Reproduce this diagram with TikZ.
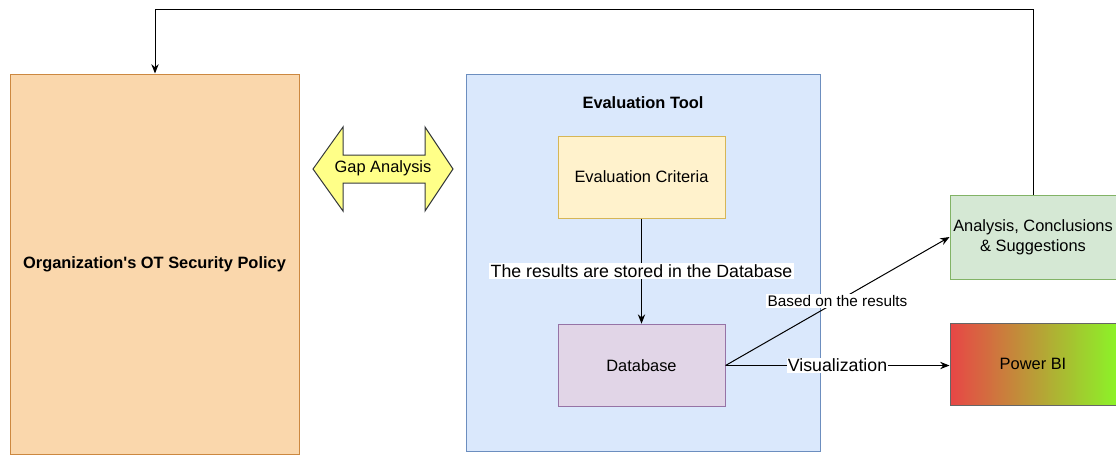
\documentclass[tikz,border=0pt]{standalone}
\usepackage{fontspec}
\setmainfont{Liberation Sans}
\usetikzlibrary{arrows.meta}
\definecolor{PolicyFill}{RGB}{250,215,172}
\definecolor{PolicyLine}{RGB}{204,136,64}
\definecolor{ToolFill}{RGB}{218,232,252}
\definecolor{ToolLine}{RGB}{108,142,191}
\definecolor{CritFill}{RGB}{255,242,204}
\definecolor{CritLine}{RGB}{214,182,86}
\definecolor{DbFill}{RGB}{225,213,231}
\definecolor{DbLine}{RGB}{150,115,166}
\definecolor{SuggFill}{RGB}{213,232,212}
\definecolor{SuggLine}{RGB}{130,179,102}
\definecolor{GapFill}{RGB}{255,255,136}
\definecolor{GapLine}{RGB}{54,57,61}
\definecolor{PbiRed}{RGB}{232,70,70}
\definecolor{PbiGreen}{RGB}{140,242,40}
\tikzset{
  flow/.style={-{Stealth[length=7pt,width=5.5pt]},line width=0.75pt,draw=black},
  box/.style={draw,line width=0.75pt,minimum width=125.25pt,minimum height=62pt,
    align=center,inner sep=1pt,font=\fontsize{12.3}{15}\selectfont},
  tag/.style={fill=white,inner sep=1pt,font=\fontsize{13.3}{15}\selectfont}
}

\begin{document}
\begin{tikzpicture}[x=0.75pt,y=-0.75pt]
  \useasboundingbox (0,0) rectangle (1116,455);
  \node[box,draw=PolicyLine,fill=PolicyFill,minimum width=216.75pt,minimum height=285pt,
    font=\fontsize{12.3}{15}\selectfont\bfseries] (policy) at (154.5,264) {Organization\textquotesingle s OT Security Policy};
  \node[draw=ToolLine,fill=ToolFill,line width=0.75pt,minimum width=265.5pt,minimum height=282.75pt] (tool) at (643,262.5) {};
  \node[font=\fontsize{12.3}{15}\selectfont\bfseries] (toolname) at (643,103) {Evaluation Tool};
  \node[box,draw=CritLine,fill=CritFill,minimum height=61.5pt] (criteria) at (641.5,177) {Evaluation Criteria};
  \node[box,draw=DbLine,fill=DbFill] (database) at (641.5,365.5) {Database};
  \node[box,draw=SuggLine,fill=SuggFill,minimum width=124.5pt,minimum height=63pt] (suggest) at (1033,237) {Analysis, Conclusions\\\& Suggestions};
  \node[box,draw=black!60,left color=PbiRed,right color=PbiGreen,minimum width=124.5pt,minimum height=61.5pt] (powerbi) at (1033,364) {Power BI};

  % gap analysis double arrow
  \draw[fill=GapFill,draw=GapLine,line width=0.75pt] (313,169) -- (343,127) -- (343,155) -- (425,155) -- (425,127)
    -- (453,169) -- (425,211) -- (425,183) -- (343,183) -- (343,211) -- cycle;
  \node[font=\fontsize{12.3}{15}\selectfont] (gap) at (383,168) {Gap Analysis};

  \draw[flow] (criteria) -- node[tag] {The results are stored in the Database} (database);
  \draw[flow] (database.east) -- node[tag,font=\fontsize{11.5}{13}\selectfont] {Based on the results} (suggest.west);
  \draw[flow] (database.east) -- node[tag] {Visualization} (powerbi.west |- database.east);
  \coordinate (loop) at (155,9);
  \draw[flow] (suggest.north) |- (loop) -- (policy.north -| loop);
\end{tikzpicture}
\end{document}
